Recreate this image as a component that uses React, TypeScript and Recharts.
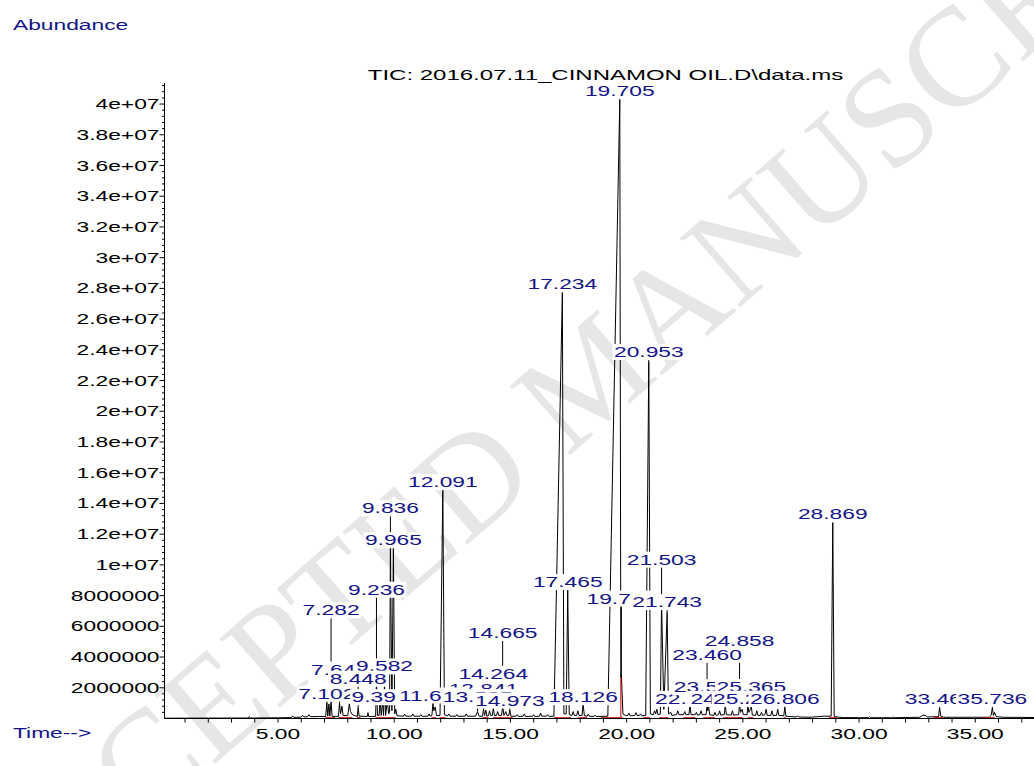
import React from 'react';
import { ComposedChart, Line, Scatter, XAxis, YAxis } from 'recharts';

const MIL = 1e6;
const FONT = '"Liberation Sans", Arial, Helvetica, sans-serif';
const NAVY = '#14148a';
const FS = 15;
// the printout is stretched sideways, so every text gets a horizontal scale
const SX = 1.52;
const TITLE_SX = 1.6;

// TIC trace: [retention time (min), abundance (millions)]
const tic: [number, number][] = [
  [0.12, 0.02], [3.0, 0.03], [3.72, 0.03], [3.76, 0.12], [3.82, 0.03], [5.2, 0.05], [5.58, 0.06],
  [5.63, 0.17], [5.68, 0.07], [6.0, 0.09], [6.06, 0.2], [6.12, 0.1], [6.28, 0.12], [6.33, 0.25],
  [6.4, 0.12], [6.8, 0.13], [7.05, 0.12], [7.102, 1.05], [7.14, 0.15], [7.19, 0.95], [7.23, 0.15],
  [7.282, 1.1], [7.33, 0.14], [7.6, 0.14], [7.645, 1.0], [7.69, 0.3], [7.75, 0.8], [7.8, 0.2],
  [8.0, 0.18], [8.068, 0.95], [8.12, 0.45], [8.2, 0.25], [8.3, 0.18], [8.41, 0.14], [8.448, 0.68],
  [8.49, 0.16], [8.84, 0.13], [8.87, 0.38], [8.9, 0.13], [9.2, 0.14], [9.236, 2.6], [9.28, 0.2],
  [9.35, 0.2], [9.392, 1.3], [9.44, 0.2], [9.5, 1.1], [9.54, 0.2], [9.582, 2.3], [9.63, 0.2],
  [9.7, 1.2], [9.76, 0.3], [9.8, 0.4], [9.836, 11.4], [9.9, 0.5], [9.965, 11.1], [10.02, 0.3],
  [10.07, 0.6], [10.12, 0.18], [10.4, 0.15], [10.45, 0.28], [10.5, 0.15], [10.75, 0.15], [10.8, 0.3],
  [10.85, 0.15], [11.1, 0.15], [11.15, 0.25], [11.2, 0.14], [11.45, 0.15], [11.5, 0.3], [11.55, 0.15],
  [11.62, 0.2], [11.668, 1.0], [11.7, 0.5], [11.76, 0.75], [11.82, 0.2], [11.97, 0.2], [12.091, 14.83],
  [12.16, 0.25], [12.3, 0.18], [12.35, 0.3], [12.4, 0.15], [12.65, 0.15], [12.7, 0.25], [12.75, 0.14],
  [13.05, 0.15], [13.1, 0.3], [13.15, 0.15], [13.5, 0.15], [13.585, 0.45], [13.65, 0.15], [13.8, 0.15],
  [13.841, 0.6], [13.89, 0.2], [13.94, 0.55], [13.99, 0.15], [14.06, 0.2], [14.1, 0.5], [14.15, 0.2],
  [14.22, 0.2], [14.264, 0.65], [14.31, 0.2], [14.4, 0.2], [14.45, 0.45], [14.5, 0.2], [14.62, 0.2],
  [14.665, 0.85], [14.72, 0.2], [14.8, 0.45], [14.85, 0.2], [14.93, 0.2], [14.973, 0.55], [15.02, 0.15],
  [15.25, 0.15], [15.3, 0.25], [15.35, 0.13], [15.55, 0.15], [15.6, 0.3], [15.65, 0.13], [15.95, 0.15],
  [16.0, 0.25], [16.05, 0.13], [16.25, 0.15], [16.3, 0.35], [16.35, 0.15], [16.55, 0.15], [16.6, 0.25],
  [16.65, 0.14], [16.87, 0.15], [17.234, 27.7], [17.3, 0.3], [17.4, 0.3], [17.465, 8.4], [17.53, 0.25],
  [17.65, 0.2], [17.7, 0.45], [17.75, 0.2], [17.85, 0.2], [17.9, 0.5], [17.95, 0.2], [18.08, 0.2],
  [18.126, 0.95], [18.18, 0.18], [18.3, 0.15], [18.35, 0.28], [18.4, 0.14], [18.6, 0.14], [18.65, 0.22],
  [18.7, 0.13], [19.19, 0.15], [19.705, 40.26], [19.75, 2.67], [19.772, 2.9], [19.84, 0.3], [19.95, 0.2],
  [20.05, 0.2], [20.1, 0.35], [20.15, 0.18], [20.35, 0.2], [20.4, 0.38], [20.45, 0.2], [20.55, 0.2],
  [20.6, 0.3], [20.65, 0.18], [20.82, 0.2], [20.953, 23.2], [21.02, 0.3], [21.15, 0.25], [21.2, 0.5],
  [21.25, 0.3], [21.3, 0.6], [21.35, 0.25], [21.45, 0.3], [21.503, 7.6], [21.6, 0.6], [21.743, 6.9],
  [21.8, 0.3], [21.9, 0.4], [21.95, 0.2], [22.15, 0.25], [22.2, 0.5], [22.25, 0.25], [22.45, 0.25],
  [22.5, 0.45], [22.55, 0.25], [22.68, 0.25], [22.724, 0.9], [22.77, 0.25], [22.95, 0.25], [23.0, 0.4],
  [23.05, 0.22], [23.15, 0.25], [23.2, 0.5], [23.25, 0.25], [23.42, 0.25], [23.46, 0.95], [23.49, 0.5],
  [23.525, 0.85], [23.57, 0.25], [23.75, 0.2], [23.8, 0.4], [23.85, 0.2], [23.95, 0.25], [24.0, 0.5],
  [24.05, 0.22], [24.2, 0.25], [24.244, 0.85], [24.29, 0.25], [24.5, 0.22], [24.55, 0.5], [24.6, 0.22],
  [24.82, 0.25], [24.858, 0.95], [24.9, 0.4], [24.97, 0.6], [25.02, 0.25], [25.18, 0.25], [25.218, 0.85],
  [25.26, 0.4], [25.365, 0.75], [25.41, 0.22], [25.55, 0.2], [25.6, 0.5], [25.65, 0.2], [25.75, 0.2],
  [25.8, 0.4], [25.85, 0.2], [25.95, 0.25], [26.0, 0.6], [26.05, 0.2], [26.2, 0.2], [26.25, 0.5],
  [26.3, 0.2], [26.45, 0.2], [26.5, 0.6], [26.55, 0.2], [26.76, 0.18], [26.806, 0.75], [26.85, 0.15],
  [27.3, 0.1], [27.35, 0.18], [27.4, 0.1], [27.9, 0.08], [28.2, 0.12], [28.5, 0.15], [28.8, 0.15],
  [28.869, 12.75], [28.93, 0.12], [29.3, 0.06], [30.4, 0.05], [30.45, 0.12], [30.5, 0.05], [31.4, 0.05],
  [31.45, 0.1], [31.5, 0.05], [32.6, 0.08], [32.75, 0.22], [32.85, 0.2], [32.95, 0.1], [33.42, 0.12],
  [33.463, 0.7], [33.52, 0.15], [33.65, 0.08], [35.6, 0.08], [35.68, 0.2], [35.736, 0.7], [35.78, 0.2],
  [35.83, 0.4], [35.9, 0.12], [36.2, 0.08], [38.0, 0.06],
];

// integration baselines drawn in red: [start, end] (min)
const integrations: [number, number][] = [
  [7.05, 7.45], [7.6, 8.2], [8.4, 8.55], [9.2, 10.07], [11.6, 11.8], [11.95, 12.2], [13.8, 14.06],
  [14.25, 15.1], [16.87, 17.6], [17.9, 18.3], [18.9, 19.82], [20.7, 21.0], [21.4, 21.8],
  [22.45, 22.96], [23.3, 23.8], [24.15, 25.0], [25.2, 25.45], [26.75, 26.85], [28.7, 29.05],
  [33.2, 33.6], [35.3, 35.85],
];
// valley drop line between 19.705 and its shoulder: [time, top (millions)]
const dropLines: [number, number][] = [[19.75, 2.67]];

// peak annotations in drawing order: [text, rt, label height, apex] (millions)
const peakLabels: [string, number, number, number][] = [
  ['19.705', 19.705, 40.85, 40.26],
  ['17.234', 17.234, 28.27, 27.7],
  ['20.953', 20.953, 23.86, 23.2],
  ['12.091', 12.091, 15.39, 14.83],
  ['28.869', 28.869, 13.29, 12.75],
  ['9.836', 9.836, 13.68, 11.4],
  ['9.965', 9.965, 11.6, 11.1],
  ['17.465', 17.465, 8.88, 8.4],
  ['21.503', 21.503, 10.34, 7.6],
  ['19.772', 19.772, 7.8, 2.9],
  ['21.743', 21.743, 7.58, 6.9],
  ['9.236', 9.236, 8.38, 2.6],
  ['7.282', 7.282, 7.04, 1.1],
  ['24.858', 24.858, 5.08, 0.95],
  ['14.665', 14.665, 5.56, 0.85],
  ['23.460', 23.46, 4.15, 0.95],
  ['14.264', 14.264, 2.91, 0.65],
  ['7.645', 7.645, 3.19, 1.0],
  ['9.582', 9.582, 3.39, 2.3],
  ['8.448', 8.448, 2.59, 0.68],
  ['13.841', 13.841, 1.95, 0.6],
  ['7.102', 7.102, 1.61, 1.05],
  ['9.392', 9.392, 1.39, 1.3],
  ['11.668', 11.668, 1.5, 1.0],
  ['13.585', 13.585, 1.39, 0.45],
  ['14.973', 14.973, 1.17, 0.55],
  ['18.126', 18.126, 1.39, 0.95],
  ['22.724', 22.724, 1.28, 0.9],
  ['23.525', 23.525, 2.04, 0.85],
  ['24.244', 24.244, 1.28, 0.85],
  ['25.365', 25.365, 2.04, 0.75],
  ['25.218', 25.218, 1.28, 0.85],
  ['26.806', 26.806, 1.28, 0.75],
  ['33.463', 33.463, 1.28, 0.7],
  ['35.736', 35.736, 1.28, 0.7],
];

const yTicks = [
  2e6, 4e6, 6e6, 8e6, 10e6, 12e6, 14e6, 16e6, 18e6, 20e6,
  22e6, 24e6, 26e6, 28e6, 30e6, 32e6, 34e6, 36e6, 38e6, 40e6,
];
const yTickLabels = [
  '2000000', '4000000', '6000000', '8000000', '1e+07', '1.2e+07', '1.4e+07', '1.6e+07', '1.8e+07', '2e+07',
  '2.2e+07', '2.4e+07', '2.6e+07', '2.8e+07', '3e+07', '3.2e+07', '3.4e+07', '3.6e+07', '3.8e+07', '4e+07',
];
const xTicks = [5, 10, 15, 20, 25, 30, 35];
const xTickLabels = ['5.00', '10.00', '15.00', '20.00', '25.00', '30.00', '35.00'];

const X_DOMAIN: [number, number] = [0.116, 38];
const Y_TOP = 41.37e6;

// minor ticks: every minute on x, every 400000 on y
const xAllTicks = Array.from({ length: 37 }, (_, i) => i + 1);
const yAllTicks = Array.from({ length: 103 }, (_, i) => (i + 1) * 4e5);

const traceData = tic.map(([t, v]) => ({ t, v: v * MIL }));

const redData = [
  ...integrations.flatMap(([a, b]) => [{ t: a, v: 0.05 * MIL }, { t: b, v: 0.05 * MIL }, { t: b, v: null }]),
  ...dropLines.flatMap(([t, top]) => [{ t, v: 0 }, { t, v: top * MIL }, { t, v: null }]),
];

const leaderData = peakLabels.flatMap(([, t, ly, apex]) => [
  { t, v: ly * MIL },
  { t, v: apex * MIL },
  { t, v: null },
]);

const labelData = peakLabels.map(([text, t, ly]) => ({ t, v: ly * MIL, text }));

const textWidth = (s: string) =>
  [...s].reduce((w, ch) => w + (ch === '.' ? 0.278 : 0.556), 0) * FS * SX;

function PeakLabel(props: any) {
  const { cx, cy, payload } = props;
  const w = textWidth(payload.text);
  return (
    <g>
      <rect x={cx - w / 2 - 1.5} y={cy - 8} width={w + 3} height={16} fill="#fff" />
      <text
        transform={`translate(${cx},${cy}) scale(${SX},1)`}
        textAnchor="middle"
        dominantBaseline="central"
        fontFamily={FONT}
        fontSize={FS}
        fill={NAVY}
      >
        {payload.text}
      </text>
    </g>
  );
}

function YTick(props: any) {
  const { x, y, payload } = props;
  const i = yTicks.indexOf(payload.value);
  const len = i >= 0 ? 5 : 2.5;
  return (
    <g>
      <line x1={x - len} x2={x} y1={y} y2={y} stroke="#000" strokeWidth={1} />
      {i >= 0 && (
        <text
          transform={`translate(${x - 5},${y}) scale(${SX},1)`}
          textAnchor="end"
          dominantBaseline="central"
          fontFamily={FONT}
          fontSize={FS}
          fill="#000"
        >
          {yTickLabels[i]}
        </text>
      )}
    </g>
  );
}

function XTick(props: any) {
  const { x, y, payload } = props;
  const i = xTicks.indexOf(payload.value);
  return (
    <g>
      <line x1={x} x2={x} y1={y} y2={y + 4} stroke="#000" strokeWidth={1} />
      {i >= 0 && (
        <text
          transform={`translate(${x},${y + 15}) scale(${SX},1)`}
          textAnchor="middle"
          dominantBaseline="central"
          fontFamily={FONT}
          fontSize={FS}
          fill="#000"
        >
          {xTickLabels[i]}
        </text>
      )}
    </g>
  );
}

const Caption = ({ x, y, text, color, anchor = 'start', sx = SX }: any) => (
  <text
    transform={`translate(${x},${y}) scale(${sx},1)`}
    textAnchor={anchor}
    dominantBaseline="central"
    fontFamily={FONT}
    fontSize={FS}
    fill={color}
  >
    {text}
  </text>
);

export default function App() {
  return (
    <div style={{ position: 'absolute', left: 0, top: 0, width: 1034, height: 766, overflow: 'hidden', background: '#fff' }}>
      <svg width={1034} height={766} style={{ position: 'absolute', left: 0, top: 0 }}>
        <text
          x={590}
          y={375}
          transform="rotate(-41 590 375)"
          textAnchor="middle"
          dominantBaseline="central"
          fontFamily='"Liberation Serif", "Times New Roman", serif'
          fontSize={140}
          fill="#e6e6e6"
        >
          ACCEPTED MANUSCRIPT
        </text>
        <Caption x={13} y={25} text="Abundance" color={NAVY} />
        <Caption x={13} y={733} text="Time-->" color={NAVY} />
        <Caption x={605.5} y={75} text="TIC: 2016.07.11_CINNAMON OIL.D\data.ms" color="#000" anchor="middle" sx={TITLE_SX} />
      </svg>
      <div style={{ position: 'absolute', left: 0, top: 0 }}>
        <ComposedChart width={1050} height={766} margin={{ top: 83, right: 5, bottom: 7.5, left: 64.5 }}>
          <XAxis
            type="number"
            dataKey="t"
            domain={X_DOMAIN}
            ticks={xAllTicks}
            interval={0}
            tick={(p: any) => <XTick {...p} />}
            tickLine={false}
            tickSize={0}
            tickMargin={0}
            height={40}
            stroke="#000"
            allowDataOverflow
          />
          <YAxis
            type="number"
            dataKey="v"
            domain={[0, Y_TOP]}
            ticks={yAllTicks}
            interval={0}
            tick={(p: any) => <YTick {...p} />}
            tickLine={false}
            tickSize={0}
            tickMargin={0}
            width={100}
            stroke="#000"
            allowDataOverflow
          />
          <Line data={traceData} dataKey="v" stroke="#000" strokeWidth={1} dot={false} isAnimationActive={false} />
          <Line data={redData} dataKey="v" stroke="#cc0000" strokeWidth={1} dot={false} isAnimationActive={false} />
          <Line data={leaderData} dataKey="v" stroke="#000" strokeWidth={1} dot={false} isAnimationActive={false} />
          <Scatter data={labelData} dataKey="v" shape={(p: any) => <PeakLabel {...p} />} isAnimationActive={false} />
        </ComposedChart>
      </div>
    </div>
  );
}
